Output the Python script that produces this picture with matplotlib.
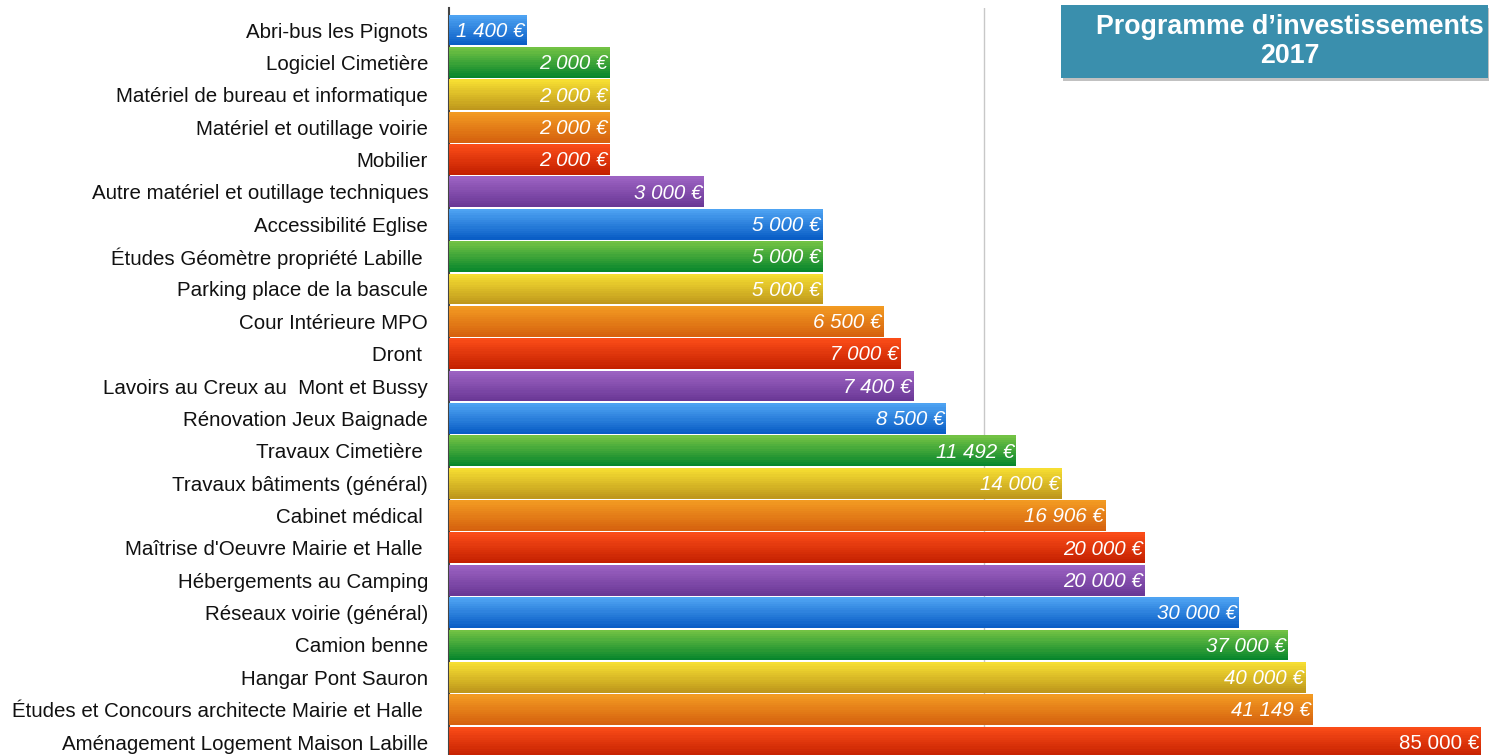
import numpy as np
import matplotlib.pyplot as plt
from matplotlib.patches import Rectangle
from matplotlib.colors import to_rgb

plt.rcParams['font.family'] = ['Liberation Sans', 'DejaVu Sans']

# data
projects = ['Abri-bus les Pignots', 'Logiciel Cimetière', 'Matériel de bureau et informatique',
            'Matériel et outillage voirie', 'Mobilier', 'Autre matériel et outillage techniques',
            'Accessibilité Eglise', 'Études Géomètre propriété Labille ', 'Parking place de la bascule',
            'Cour Intérieure MPO', 'Dront ', 'Lavoirs au Creux au  Mont et Bussy',
            'Rénovation Jeux Baignade', 'Travaux Cimetière ', 'Travaux bâtiments (général)',
            'Cabinet médical ', "Maîtrise d'Oeuvre Mairie et Halle ", 'Hébergements au Camping',
            'Réseaux voirie (général)', 'Camion benne', 'Hangar Pont Sauron',
            'Études et Concours architecte Mairie et Halle ', 'Aménagement Logement Maison Labille']
amounts = [1400, 2000, 2000, 2000, 2000, 3000, 5000, 5000, 5000, 6500, 7000, 7400, 8500,
           11492, 14000, 16906, 20000, 20000, 30000, 37000, 40000, 41149, 85000]
value_labels = ['1 400 €', '2 000 €', '2 000 €', '2 000 €', '2 000 €', '3 000 €', '5 000 €',
                '5 000 €', '5 000 €', '6 500 €', '7 000 €', '7 400 €', '8 500 €', '11 492 €',
                '14 000 €', '16 906 €', '20 000 €', '20 000 €', '30 000 €', '37 000 €',
                '40 000 €', '41 149 €', '85 000 €']
title_lines = ['Programme d\u2019investissements', '2017']

# gradient colours (top, bottom): blue, green, yellow, orange, red, purple
palette = [('#4ea3f2', '#0a5ec6'), ('#72c244', '#08862c'), ('#f6de32', '#bf981c'),
           ('#f29a22', '#d6620e'), ('#fa4c18', '#c42000'), ('#9c62c2', '#6a3896')]

fig = plt.figure(figsize=(15, 7.55), dpi=100)
W, H = 1500, 755
ax = fig.add_axes([449 / W, 0, 1070 / W, 747 / H])
ax.set_xscale('log')
ax.set_xlim(1000, 100000)
ax.set_ylim(22.4, -0.68)

bar_h = 0.95
n_strips = 14
for i, (v, lab) in enumerate(zip(amounts, value_labels)):
    top, bot = (np.array(to_rgb(c)) for c in palette[i % len(palette)])
    for k in range(n_strips):
        t = k / (n_strips - 1)
        y0 = i - bar_h / 2 + k * bar_h / n_strips
        ax.barh(y0, v - 1000, height=bar_h / n_strips + 0.002, left=1000, align='edge',
                color=top * (1 - t) + bot * t, linewidth=0, zorder=3)
    style = 'normal' if i == len(amounts) - 1 else 'italic'
    ax.text(v / 1.01, i + 0.04, lab, ha='right', va='center', color='white',
            fontsize=14.8, style=style, zorder=4)

ax.axvline(10000, color='#c8c8c8', linewidth=1, zorder=1)
ax.set_yticks(range(len(projects)))
ax.set_yticklabels(projects, fontsize=14.8, color='#111111')
ax.tick_params(axis='y', length=0, pad=15)
ax.set_xticks([])
ax.xaxis.set_minor_locator(plt.NullLocator())
for s in ['top', 'right', 'bottom']:
    ax.spines[s].set_visible(False)
ax.spines['left'].set_color('#444444')
ax.spines['left'].set_linewidth(1.5)

# title box
fig.patches.append(Rectangle((1063 / W, 1 - 81 / H), 426 / W, 73 / H, transform=fig.transFigure,
                             facecolor='#999999', alpha=0.6, linewidth=0, zorder=5))
fig.patches.append(Rectangle((1061 / W, 1 - 78 / H), 427 / W, 73 / H, transform=fig.transFigure,
                             facecolor='#3a8fad', linewidth=0, zorder=6))
fig.text(1290 / W, 1 - 27 / H, title_lines[0], ha='center', va='center', color='white',
         fontsize=19.3, fontweight='bold', zorder=7)
fig.text(1290 / W, 1 - 56 / H, title_lines[1], ha='center', va='center', color='white',
         fontsize=19.3, fontweight='bold', zorder=7)

fig.savefig('out.png', dpi=100)
